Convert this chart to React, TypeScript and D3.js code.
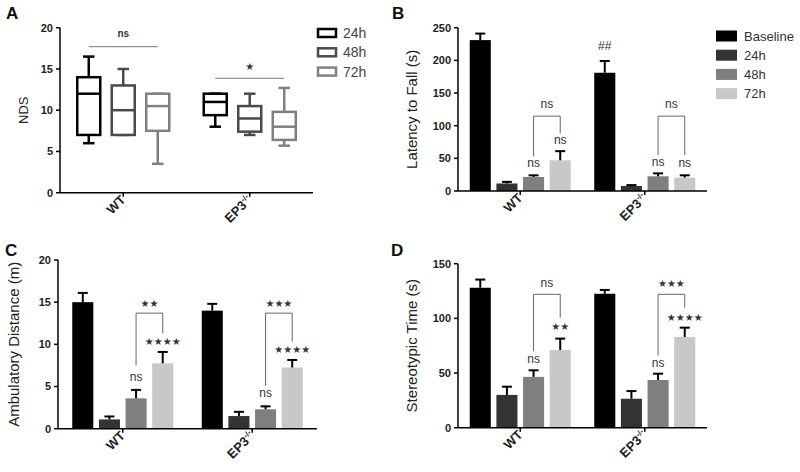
import React from 'react';
import * as d3 from 'd3';

const groups = ['WT', 'EP3'];
const timePoints = ['24h', '48h', '72h'];
const barSeries = ['Baseline', '24h', '48h', '72h'];

// Panel A, box plots: rows = genotype, cols = 24h/48h/72h
const ndsLow = [[6, 7, 3.5], [8, 7, 5.7]];
const ndsQ1 = [[7, 7, 7.5], [9.4, 7.4, 6.4]];
const ndsMedian = [[12, 10, 10.5], [11, 9, 8]];
const ndsQ3 = [[14, 13, 12], [12, 10.5, 9.8]];
const ndsHigh = [[16.5, 15, 12], [12, 12, 12.7]];
const ndsTicks = [0, 5, 10, 15, 20];

// Panel B
const latencyMean = [[231, 11.5, 21.5, 47], [181, 7.7, 22.5, 20.5]];
const latencySem = [[10, 2.5, 2.5, 14], [18, 1.3, 4.5, 3.5]];
const latencyTicks = [0, 50, 100, 150, 200, 250];

// Panel C
const distanceMean = [[15, 1.1, 3.6, 7.75], [14, 1.5, 2.3, 7.25]];
const distanceSem = [[1.1, 0.35, 1.0, 1.35], [0.8, 0.5, 0.35, 0.9]];
const distanceTicks = [0, 5, 10, 15, 20];

// Panel D
const stereoMean = [[128, 30, 46.5, 71], [122.5, 26.5, 43.6, 83]];
const stereoSem = [[7.5, 7.5, 6, 10.5], [3.5, 7, 5.8, 8.5]];
const stereoTicks = [0, 50, 100, 150];

// significance annotations (values in data units)
type Bracket = { group: number; top: number; left: number; right: number; label: string; labelAt: number };
type Mark = { group: number; series: number; at: number; label: string };

const latencyBrackets: Bracket[] = [
  { group: 0, top: 114.6, left: 53, right: 88, label: 'ns', labelAt: 127 },
  { group: 1, top: 114.6, left: 55, right: 55, label: 'ns', labelAt: 127 },
];
const latencyMarks: Mark[] = [
  { group: 0, series: 2, at: 36.5, label: 'ns' },
  { group: 0, series: 3, at: 72, label: 'ns' },
  { group: 1, series: 0, at: 216, label: '##' },
  { group: 1, series: 2, at: 38, label: 'ns' },
  { group: 1, series: 3, at: 36.5, label: 'ns' },
];
const distanceBrackets: Bracket[] = [
  { group: 0, top: 13.7, left: 7.5, right: 11.3, label: '**', labelAt: 14.9 },
  { group: 1, top: 13.7, left: 5.1, right: 10.3, label: '***', labelAt: 14.9 },
];
const distanceMarks: Mark[] = [
  { group: 0, series: 2, at: 5.6, label: 'ns' },
  { group: 0, series: 3, at: 10.3, label: '****' },
  { group: 1, series: 2, at: 3.7, label: 'ns' },
  { group: 1, series: 3, at: 9.4, label: '****' },
];
const stereoBrackets: Bracket[] = [
  { group: 0, top: 122, left: 70, right: 100.6, label: 'ns', labelAt: 128.7 },
  { group: 1, top: 122, left: 66, right: 109.8, label: '***', labelAt: 131.8 },
];
const stereoMarks: Mark[] = [
  { group: 0, series: 2, at: 59.5, label: 'ns' },
  { group: 0, series: 3, at: 92.5, label: '**' },
  { group: 1, series: 2, at: 55.8, label: 'ns' },
  { group: 1, series: 3, at: 100.8, label: '****' },
];

const barColors = ['#000000', '#333333', '#7f7f7f', '#c8c8c8'];
const boxColors = ['#000000', '#4a4a4a', '#808080'];
const FONT = '"Liberation Sans", Arial, sans-serif';

// stars drawn as small five-pointed glyphs, centred on y
function SigText({ x, y, label, size = 12, bold = false }: any) {
  if (label.includes('*')) {
    return (
      <text x={x} y={y} dy="0.36em" fontFamily='"DejaVu Sans", sans-serif' fontSize={10}
        textAnchor="middle" fill="#333">
        {label.replace(/\*/g, '\u2605')}
      </text>
    );
  }
  return (
    <text x={x} y={y} fontSize={size} fontWeight={bold ? 'bold' : 'normal'} textAnchor="middle" fill="#333" fontFamily={FONT}>
      {label}
    </text>
  );
}

function GroupLabel({ name }: { name: string }) {
  if (name === 'EP3') {
    return (
      <>
        EP3<tspan dy={-5} fontSize={8}>-/-</tspan>
      </>
    );
  }
  return <>{name}</>;
}

function Axes({ x0, x1, y, ticks, xScale, title, titleX, titleSize }: any) {
  const [b, t] = y.range();
  return (
    <g fontFamily={FONT}>
      <line x1={x0} x2={x0} y1={b} y2={t} stroke="#000" strokeWidth={1.5} />
      {ticks.map((v: number) => (
        <g key={v} transform={`translate(${x0},${y(v)})`}>
          <line x1={-4} x2={0} stroke="#000" strokeWidth={1.5} />
          <text x={-7} dy="0.35em" textAnchor="end" fontSize={11} fontWeight="bold" fill="#222">{v}</text>
        </g>
      ))}
      <line x1={x0} x2={x1} y1={b} y2={b} stroke="#000" strokeWidth={1.5} />
      {groups.map(g => {
        const cx = (xScale(g) ?? 0) + xScale.bandwidth() / 2;
        return (
          <g key={g} transform={`translate(${cx},${b})`}>
            <line y1={0} y2={4} stroke="#000" strokeWidth={1.5} />
            <text transform="translate(3,8) rotate(-45)" textAnchor="end" fontSize={13} fontWeight="bold" fill="#222">
              <GroupLabel name={g} />
            </text>
          </g>
        );
      })}
      <text transform={`translate(${titleX},${(b + t) / 2}) rotate(-90)`} textAnchor="middle" fontSize={titleSize} fill="#222">{title}</text>
    </g>
  );
}

function BarPanel({ x0, x1, top, bottom, yMax, ticks, means, sems, title, titleX, brackets, marks }: any) {
  const xScale = d3.scaleBand<string>().domain(groups).range([x0, x1]);
  const inner = d3.scaleBand<string>().domain(barSeries).range([-50.5, 50.5]).paddingInner(0.21);
  const y = d3.scaleLinear().domain([0, yMax]).range([bottom, top]);
  const cx = (gi: number, si: number) =>
    (xScale(groups[gi]) ?? 0) + xScale.bandwidth() / 2 + (inner(barSeries[si]) ?? 0) + inner.bandwidth() / 2;
  return (
    <g>
      {groups.map((g, gi) =>
        barSeries.map((s, si) => {
          const c = cx(gi, si);
          const m = means[gi][si];
          const e = m + sems[gi][si];
          return (
            <g key={g + s}>
              <rect x={c - inner.bandwidth() / 2} y={y(m)} width={inner.bandwidth()} height={y(0) - y(m)} fill={barColors[si]} />
              <line x1={c} x2={c} y1={y(m)} y2={y(e)} stroke="#000" strokeWidth={2} />
              <line x1={c - 5} x2={c + 5} y1={y(e)} y2={y(e)} stroke="#000" strokeWidth={2} />
            </g>
          );
        })
      )}
      <Axes x0={x0} x1={x1} y={y} ticks={ticks} xScale={xScale} title={title} titleX={titleX} titleSize={15} />
      <g>
        {brackets.map((br: Bracket, i: number) => {
          const l = cx(br.group, 2);
          const r = cx(br.group, 3);
          return (
            <g key={i}>
              <path d={`M${l},${y(br.left)}V${y(br.top)}H${r}V${y(br.right)}`} fill="none" stroke="#666" strokeWidth={1} />
              <SigText x={(l + r) / 2} y={y(br.labelAt)} label={br.label} />
            </g>
          );
        })}
        {marks.map((mk: Mark, i: number) => (
          <SigText key={i} x={cx(mk.group, mk.series)} y={y(mk.at)} label={mk.label} />
        ))}
      </g>
    </g>
  );
}

function BoxPanel() {
  const x0 = 60, x1 = 313, top = 27.7, bottom = 192.7;
  const xScale = d3.scaleBand<string>().domain(groups).range([x0, x1]);
  const inner = d3.scaleBand<string>().domain(timePoints).range([-46, 46]).paddingInner(0.333);
  const y = d3.scaleLinear().domain([0, 20]).range([bottom, top]);
  const cx = (gi: number, ti: number) =>
    (xScale(groups[gi]) ?? 0) + xScale.bandwidth() / 2 + (inner(timePoints[ti]) ?? 0) + inner.bandwidth() / 2;
  const w = inner.bandwidth();
  // significance lines across the three time points
  const sig = [
    { group: 0, at: 17.7, label: 'ns', labelAt: 18.9 },
    { group: 1, at: 13.87, label: '*', labelAt: 15.3 },
  ];
  return (
    <g>
      {groups.map((g, gi) =>
        timePoints.map((tp, ti) => {
          const c = cx(gi, ti);
          const col = boxColors[ti];
          const lo = y(ndsLow[gi][ti]), q1 = y(ndsQ1[gi][ti]), md = y(ndsMedian[gi][ti]);
          const q3 = y(ndsQ3[gi][ti]), hi = y(ndsHigh[gi][ti]);
          return (
            <g key={g + tp} stroke={col} strokeWidth={2.5} fill="none">
              <line x1={c} x2={c} y1={q3} y2={hi} />
              <line x1={c - w / 4} x2={c + w / 4} y1={hi} y2={hi} />
              <line x1={c} x2={c} y1={q1} y2={lo} />
              <line x1={c - w / 4} x2={c + w / 4} y1={lo} y2={lo} />
              <rect x={c - w / 2} y={q3} width={w} height={q1 - q3} fill="#fff" />
              <line x1={c - w / 2} x2={c + w / 2} y1={md} y2={md} />
            </g>
          );
        })
      )}
      <Axes x0={x0} x1={x1} y={y} ticks={ndsTicks} xScale={xScale} title="NDS" titleX={28} titleSize={13} />
      <g>
        {sig.map((s, i) => {
          const l = cx(s.group, 0), r = cx(s.group, 2);
          return (
            <g key={i}>
              <line x1={l} x2={r} y1={y(s.at)} y2={y(s.at)} stroke="#777" strokeWidth={1} />
              <SigText x={(l + r) / 2} y={y(s.labelAt)} label={s.label} size={10} bold />
            </g>
          );
        })}
      </g>
      <g fontFamily={FONT}>
        {timePoints.map((tp, ti) => (
          <g key={tp} transform={`translate(318,${33 + ti * 19.3})`}>
            <rect x={0} y={-4} width={18} height={8} fill="none" stroke={boxColors[ti]} strokeWidth={2.5} />
            <text x={25} dy="0.36em" fontSize={14} fill="#444">{tp}</text>
          </g>
        ))}
      </g>
    </g>
  );
}

function BarLegend() {
  return (
    <g fontFamily={FONT}>
      {barSeries.map((s, i) => (
        <g key={s} transform={`translate(716,${36 + i * 19.2})`}>
          <rect x={0} y={-5.5} width={21} height={11} fill={barColors[i]} />
          <text x={28} dy="0.36em" fontSize={13} fill="#333">{s}</text>
        </g>
      ))}
    </g>
  );
}

export default function App() {
  return (
    <div style={{ position: 'absolute', left: 0, top: 0 }}>
      <svg width={800} height={472} style={{ display: 'block', background: '#fff' }}>
        <BoxPanel />
        <BarPanel x0={458} x1={707} top={27.7} bottom={191} yMax={250} ticks={latencyTicks}
          means={latencyMean} sems={latencySem} title="Latency to Fall (s)" titleX={417}
          brackets={latencyBrackets} marks={latencyMarks} />
        <BarLegend />
        <BarPanel x0={58} x1={317} top={260} bottom={428.7} yMax={20} ticks={distanceTicks}
          means={distanceMean} sems={distanceSem} title="Ambulatory Distance (m)" titleX={19}
          brackets={distanceBrackets} marks={distanceMarks} />
        <BarPanel x0={458} x1={707} top={263.7} bottom={427.7} yMax={150} ticks={stereoTicks}
          means={stereoMean} sems={stereoSem} title="Stereotypic Time (s)" titleX={417}
          brackets={stereoBrackets} marks={stereoMarks} />
        <g fontFamily={FONT} fontWeight="bold" fontSize={17} fill="#111">
          <text x={6} y={19}>A</text>
          <text x={392} y={19}>B</text>
          <text x={5} y={256}>C</text>
          <text x={391} y={256}>D</text>
        </g>
      </svg>
    </div>
  );
}
